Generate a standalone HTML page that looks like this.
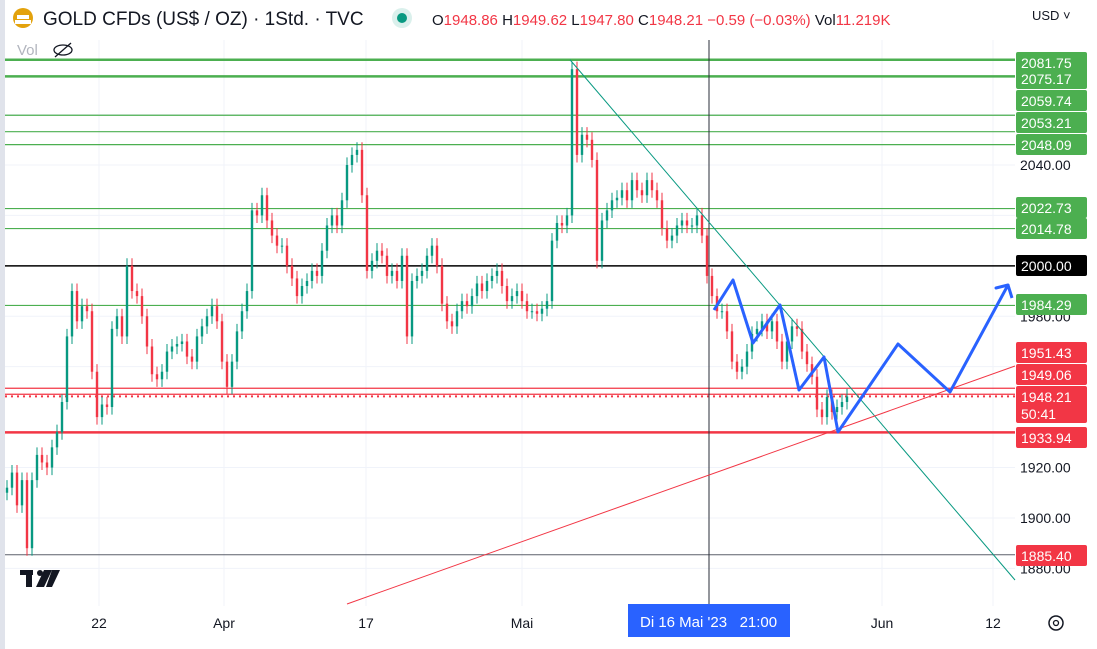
<!DOCTYPE html>
<html><head><meta charset="utf-8"><style>
body{margin:0;width:1097px;height:649px;overflow:hidden;background:#fff;font-family:"Liberation Sans",sans-serif}
svg{position:absolute;left:0;top:0}
</style></head><body>
<svg id="chart" width="1097" height="649">
<rect x="0" y="0" width="5" height="649" fill="#e0e3eb"/>
<g id="grid"></g>
<g id="hlines"></g>
<line x1="709" y1="40" x2="709" y2="606" stroke="#2a2e39" stroke-width="1"/>
<g id="candles"></g>
<line id="greenTrend" stroke="#089981" stroke-width="1"/>
<line id="redTrend" stroke="#f23645" stroke-width="1"/>
<polyline id="zigzag" fill="none" stroke="#2962ff" stroke-width="3" stroke-linejoin="round"/>
<g id="axisLabels"></g>
<g id="xlabels"></g>
<rect x="628" y="604" width="162" height="33" fill="#2962ff"/>
<text x="640" y="627" fill="#fff" font-size="15">Di 16 Mai '23&#160;&#160;&#160;21:00</text>
<g><circle cx="1056" cy="623" r="7" fill="none" stroke="#131722" stroke-width="1.5"/><circle cx="1056" cy="623" r="2.5" fill="none" stroke="#131722" stroke-width="1.3"/></g>
<g><rect x="20" y="570" width="13" height="5" fill="#131722"/><rect x="26" y="570" width="6" height="17" fill="#131722"/><circle cx="40" cy="573" r="3" fill="#131722"/><polygon points="44,570 52,570 44,587 36,587" fill="#131722"/><polygon points="52,570 60,570 52,587 46,587" fill="#131722"/></g>
<g>
<circle cx="23" cy="18" r="10" fill="#e3a20c"/>
<rect x="17" y="15" width="12" height="4" fill="#fff"/><rect x="15" y="20" width="16" height="4" fill="#fff"/>
<text x="43" y="25" font-size="19" fill="#131722">GOLD CFDs (US$ / OZ) · 1Std. · TVC</text>
<circle cx="402" cy="18" r="10" fill="#daf0ec"/><circle cx="402" cy="18" r="5" fill="#089981"/>
<text x="432" y="25" font-size="15" fill="#131722">O<tspan fill="#f23645">1948.86 </tspan>H<tspan fill="#f23645">1949.62 </tspan>L<tspan fill="#f23645">1947.80 </tspan>C<tspan fill="#f23645">1948.21 −0.59 (−0.03%) </tspan>Vol<tspan fill="#f23645">11.219K</tspan></text>
<text x="17" y="55" font-size="15" fill="#b2b5be">Vol</text>
<g stroke="#131722" stroke-width="1.3" fill="none"><ellipse cx="63" cy="50" rx="9" ry="5"/><line x1="55" y1="57" x2="71" y2="43"/></g>
<text x="1032" y="20" font-size="13" fill="#131722">USD ˅</text>
</g>
</svg>
<script>
const prices=[1912,1918,1905,1915,1888,1915,1925,1922,1920,1928,1934,1946,1972,1990,1978,1984,1982,1958,1940,1945,1944,1975,1980,1972,2000,1990,1988,1980,1968,1957,1955,1958,1966,1968,1969,1970,1964,1962,1972,1976,1980,1984,1978,1962,1952,1962,1974,1982,1990,2022,2020,2028,2018,2012,2008,2008,2000,1995,1988,1992,1994,1998,1996,2006,2016,2020,2016,2026,2040,2044,2046,2028,1998,2002,2006,2004,1996,1998,1994,2004,1972,1994,1996,1998,2004,2008,2000,1985,1978,1976,1982,1986,1984,1988,1993,1990,1994,1996,1998,1992,1986,1988,1990,1986,1982,1982,1981,1983,1986,2010,2017,2016,2020,2078,2044,2052,2050,2042,2002,2018,2022,2026,2027,2030,2026,2034,2030,2028,2034,2030,2026,2015,2010,2012,2016,2018,2016,2016,2020,2012,1996,1988,1982,1982,1974,1962,1958,1960,1966,1973,1975,1978,1974,1978,1970,1962,1970,1976,1975,1966,1961,1956,1943,1940,1948,1942,1944,1946,1948.21];
const firstOpen=1910;
const greenLevels=[2081.75,2075.17,2059.74,2053.21,2048.09,2022.73,2014.78,1984.29];
const redLevels=[1951.43,1949.06,1933.94];
const gridPrices=[2040,1980,1920,1900,1880];
const xTicks=["22","Apr","17","Mai","Jun","12"];
const xTickIdx=[18.4,43.4,71.8,103,175,197.2];
const NS="http://www.w3.org/2000/svg";
const y=p=>165+(2040-p)*2.521;
const x=i=>7+i*5;
function mk(tag,parent,attrs){const e=document.createElementNS(NS,tag);for(const k in attrs)e.setAttribute(k,attrs[k]);parent.appendChild(e);return e;}
const grid=document.getElementById('grid');
gridPrices.concat([1960,2000,2020,2060]).forEach(p=>{const l=mk('line',grid,{x1:5,x2:1015,y1:y(p),y2:y(p),stroke:'#f0f3fa'});

});
xTickIdx.forEach(i=>{const l=mk('line',grid,{x1:x(i),x2:x(i),y1:40,y2:606,stroke:'#f0f3fa'});

});
const hl=document.getElementById('hlines');
greenLevels.forEach((p,k)=>{const l=mk('line',hl,{x1:5,x2:1015,y1:y(p),y2:y(p),stroke:'#4caf50','stroke-width':k<2?2.5:1.2});

});
let l=mk('line',hl,{x1:5,x2:1015,y1:y(2000),y2:y(2000),stroke:'#000','stroke-width':1.5});


redLevels.forEach((p,k)=>{const e=mk('line',hl,{x1:5,x2:1015,y1:y(p),y2:y(p),stroke:'#f23645','stroke-width':k==2?2.5:1.2});

});
l=mk('line',hl,{x1:5,x2:1015,y1:y(1948.21),y2:y(1948.21),stroke:'#f23645','stroke-width':2,'stroke-dasharray':'2 4'});


l=mk('line',hl,{x1:5,x2:1015,y1:y(1885.4),y2:y(1885.4),stroke:'#5d606b','stroke-width':1});


const cg=document.getElementById('candles');
let prev=firstOpen;
prices.forEach((c,i)=>{const o=prev;const up=c>=o;const col=up?'#089981':'#f23645';
const hi=Math.max(o,c)+3,lo=Math.min(o,c)-3;
const w=mk('line',cg,{x1:x(i),x2:x(i),y1:y(hi),y2:y(lo),stroke:col,'stroke-width':1});


const b=mk('rect',cg,{x:x(i)-1.2,width:2.4,y:y(Math.max(o,c)),height:Math.max(1,Math.abs(y(o)-y(c))),fill:col});


prev=c;});
const gt=document.getElementById('greenTrend');gt.setAttribute('x1',570);gt.setAttribute('y1',y(2081.75));gt.setAttribute('x2',1015);gt.setAttribute('y2',580);
const rt=document.getElementById('redTrend');rt.setAttribute('x1',347);rt.setAttribute('y1',604);rt.setAttribute('x2',1015);rt.setAttribute('y2',366);
document.getElementById('zigzag').setAttribute('points','714,310 733,280 753,343 780,305 799,390 824,357 838,432 898,344 950,392 1008,285 996,288 1008,285 1012,298');
const ax=document.getElementById('axisLabels');
gridPrices.forEach(p=>{const t=mk('text',ax,{x:1020,y:y(p)+5,'font-size':14,fill:'#131722'});t.textContent=p.toFixed(2);

});
const boxes=[[2081.75,52,'#4caf50'],[2075.17,68,'#4caf50'],[2059.74,90,'#4caf50'],[2053.21,112,'#4caf50'],[2048.09,134,'#4caf50'],[2022.73,197,'#4caf50'],[2014.78,218,'#4caf50'],[2000.00,255,'#000'],[1984.29,294,'#4caf50'],[1951.43,342,'#f23645'],[1949.06,364,'#f23645'],[1948.21,386,'#f23645'],[1933.94,427,'#f23645'],[1885.40,545,'#f23645']];
boxes.forEach(b=>{const r=mk('rect',ax,{x:1016,y:b[1],width:71,height:b[0]==1948.21?37:21,fill:b[2],rx:2});


const t=mk('text',ax,{x:1021,y:b[1]+16,'font-size':14,fill:'#fff'});t.textContent=b[0].toFixed(2);

});
const cd=mk('text',ax,{x:1021,y:419,'font-size':14,fill:'#fff'});cd.textContent='50:41';


const xl=document.getElementById('xlabels');
xTicks.forEach((s,k)=>{const t=mk('text',xl,{x:x(xTickIdx[k]),y:628,'font-size':14,fill:'#131722','text-anchor':'middle'});t.textContent=s;

});
</script>
</body></html>
